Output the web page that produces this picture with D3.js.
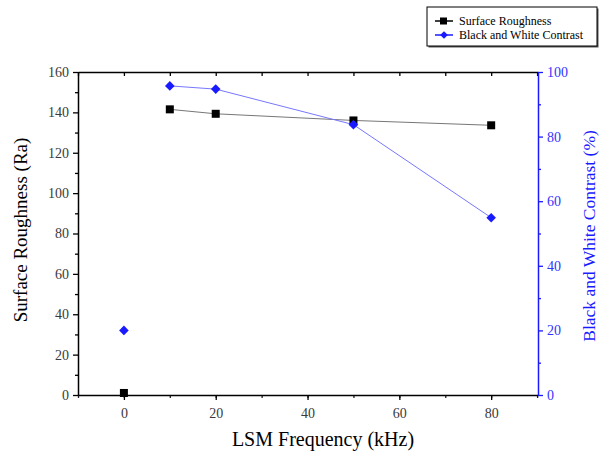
<!DOCTYPE html>
<html>
<head>
<meta charset="utf-8">
<script src="https://d3js.org/d3.v7.min.js"></script>
<style>
  body { margin: 0; background: #fff; }
  .tick text { fill: #3a3a3a; font-size: 14px; }
  .yr .tick text { fill: #3333ff; }
</style>
</head>
<body>
<script>
var freq = [0, 10, 20, 50, 80];
var roughness = [1, 141.5, 139.3, 136, 133.6];
var contrast = [20, 95.7, 94.7, 83.7, 54.9];
var xTicks = [0, 20, 40, 60, 80];
var yLeftTicks = [0, 20, 40, 60, 80, 100, 120, 140, 160];
var yRightTicks = [0, 20, 40, 60, 80, 100];

var w = 599, h = 451;
var margin = {top: 72, right: 61, bottom: 56, left: 78};
var innerW = w - margin.left - margin.right,
    innerH = h - margin.top - margin.bottom;
var serif = "'Liberation Serif', 'Times New Roman', serif";

var x = d3.scaleLinear().domain([-10, 90.2]).range([0, innerW]);
var yL = d3.scaleLinear().domain([0, 160]).range([innerH, 0]);
var yR = d3.scaleLinear().domain([0, 100]).range([innerH, 0]);

var svg = d3.select('body').append('svg')
    .attr('width', w).attr('height', h);
var g = svg.append('g')
    .attr('transform', 'translate(' + [margin.left, margin.top] + ')');

function style(s) {
  s.attr('font-family', null);
  s.selectAll('text').style('font-family', serif);
  s.select('.domain').attr('stroke-width', 1.5);
  s.selectAll('.tick line').attr('stroke-width', 1.3);
}

// bottom axis with minor ticks
g.append('g').attr('transform', 'translate(0,' + innerH + ')')
  .call(d3.axisBottom(x).tickValues(d3.range(-10, 91, 10)).tickSize(3).tickFormat(''))
  .call(function(s){ s.select('.domain').remove(); s.selectAll('line').attr('stroke', '#222').attr('stroke-width', 1.3); });
g.append('g').attr('transform', 'translate(0,' + innerH + ')')
  .call(d3.axisBottom(x).tickValues(xTicks).tickSize(5).tickSizeOuter(0).tickPadding(8))
  .call(style);
// top axis, ticks pointing inward
g.append('g')
  .call(d3.axisBottom(x).tickValues(d3.range(-10, 91, 10)).tickSize(4).tickSizeOuter(0).tickFormat(''))
  .call(style);

// left axis
g.append('g')
  .call(d3.axisLeft(yL).tickValues(d3.range(10, 160, 20)).tickSize(3).tickFormat(''))
  .call(function(s){ s.select('.domain').remove(); s.selectAll('line').attr('stroke-width', 1.3); });
g.append('g')
  .call(d3.axisLeft(yL).tickValues(yLeftTicks).tickSize(5).tickSizeOuter(0).tickPadding(4))
  .call(style);

// right axis (blue)
var blue = '#1a1aff';
g.append('g').attr('transform', 'translate(' + innerW + ',0)')
  .call(d3.axisRight(yR).tickValues(d3.range(10, 100, 20)).tickSize(3).tickFormat(''))
  .call(function(s){ s.select('.domain').remove(); s.selectAll('line').attr('stroke', blue).attr('stroke-width', 1.3); });
g.append('g').attr('class', 'yr').attr('transform', 'translate(' + innerW + ',0)')
  .call(d3.axisRight(yR).tickValues(yRightTicks).tickSize(5).tickSizeOuter(0).tickPadding(4))
  .call(style)
  .call(function(s){ s.selectAll('.domain, line').attr('stroke', blue); });

// series lines (the 0 kHz baseline sample is not joined)
var line = d3.line().x(function(d){ return x(d[0]); }).y(function(d){ return d[1]; });
var rPts = freq.map(function(f, i){ return [f, yL(roughness[i])]; });
var cPts = freq.map(function(f, i){ return [f, yR(contrast[i])]; });

g.append('path').attr('d', line(rPts.slice(1)))
  .attr('fill', 'none').attr('stroke', '#777').attr('stroke-width', 1);
g.append('path').attr('d', line(cPts.slice(1)))
  .attr('fill', 'none').attr('stroke', '#7777ff').attr('stroke-width', 1);

g.selectAll('.sq').data(rPts).enter().append('rect')
  .attr('x', function(d){ return x(d[0]) - 4; })
  .attr('y', function(d){ return d[1] - 4; })
  .attr('width', 8).attr('height', 8).attr('fill', '#000');
g.selectAll('.dm').data(cPts).enter().append('path')
  .attr('d', d3.symbol(d3.symbolSquare, 46))
  .attr('transform', function(d){ return 'translate(' + [x(d[0]), d[1]] + ') rotate(45)'; })
  .attr('fill', blue);

// axis titles
svg.append('text').attr('x', 323).attr('y', 446).attr('text-anchor', 'middle')
  .style('font-family', serif).style('font-size', '20px').text('LSM Frequency (kHz)');
svg.append('text').attr('transform', 'translate(27,230) rotate(-90)')
  .attr('text-anchor', 'middle').style('font-family', serif).style('font-size', '19px')
  .text('Surface Roughness (Ra)');
svg.append('text').attr('transform', 'translate(595,236) rotate(-90)')
  .attr('text-anchor', 'middle').style('font-family', serif).style('font-size', '17.5px')
  .attr('fill', blue).text('Black and White Contrast (%)');

// legend
var leg = svg.append('g').attr('transform', 'translate(427,7)');
leg.append('rect').attr('x', 1.5).attr('y', 1.5).attr('width', 170).attr('height', 39).attr('fill', '#555');
leg.append('rect').attr('width', 170).attr('height', 39)
  .attr('fill', '#fff').attr('stroke', '#000').attr('stroke-width', 1);
var items = [
  {name: 'Surface Roughness', color: '#000', sym: 'sq'},
  {name: 'Black and White Contrast', color: blue, sym: 'dm'}
];
items.forEach(function(it, i) {
  var yy = 14 + i * 14;
  leg.append('line').attr('x1', 8).attr('x2', 26).attr('y1', yy).attr('y2', yy)
    .attr('stroke', it.color).attr('stroke-width', 1.5);
  if (it.sym === 'sq') {
    leg.append('rect').attr('x', 13).attr('y', yy - 3.5).attr('width', 7).attr('height', 7).attr('fill', it.color);
  } else {
    leg.append('path').attr('d', d3.symbol(d3.symbolSquare, 30))
      .attr('transform', 'translate(17,' + yy + ') rotate(45)').attr('fill', it.color);
  }
  leg.append('text').attr('x', 32).attr('y', yy + 4)
    .style('font-family', serif).style('font-size', '12px').text(it.name);
});
</script>
</body>
</html>
